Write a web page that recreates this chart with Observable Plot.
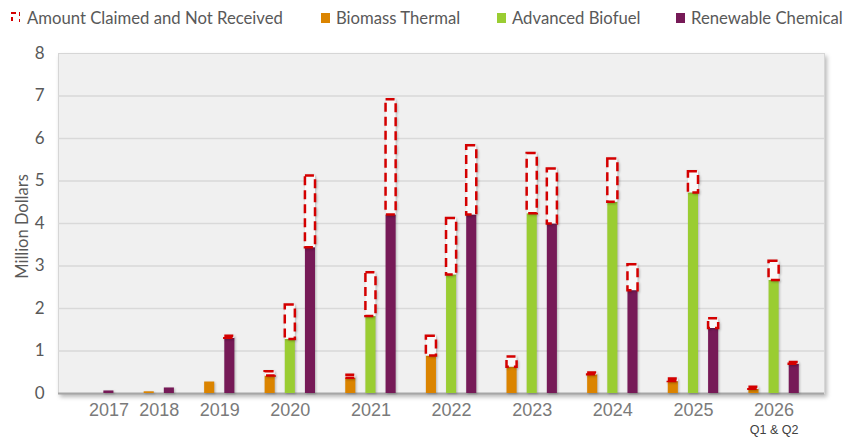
<!DOCTYPE html>
<html><head><meta charset="utf-8">
<script src="https://cdn.jsdelivr.net/npm/d3@7"></script>
<script src="https://cdn.jsdelivr.net/npm/@observablehq/plot@0.6"></script>
<style>
body{margin:0;background:#fff;font-family:Lato,"Open Sans",sans-serif;}
#legend{height:34px;position:relative;font-size:16.7px;color:#595959;width:843px;overflow:hidden}
.item{position:absolute;top:8px;height:20px;line-height:20px;white-space:nowrap}
.sw{position:absolute;top:5px;width:9px;height:10px}
#chart svg{display:block}
</style></head><body>
<div id="legend"></div>
<div id="chart"></div>
<script>
const years = ["2017","2018","2019","2020","2021","2022","2023","2024","2025","2026"];
const yearNotes = ["","","","","","","","","","Q1 & Q2"];
const seriesNames = ["Biomass Thermal","Advanced Biofuel","Renewable Chemical"];
const claimedName = "Amount Claimed and Not Received";
const seriesColors = ["#DB8400","#9ACD32","#761A57"];
const claimedColor = "#D40000";
// received amounts (million $); null = no bar slot for that year
const biomassReceived  = [0, 0.04, 0.27, 0.41, 0.36, 0.88, 0.62, 0.44, 0.28, 0.10];
const biomassClaimed   = [0, 0,    0,    0.10, 0.07, 0.47, 0.24, 0.04, 0.06, 0.05];
const biofuelReceived  = [0, null, null, 1.27, 1.81, 2.79, 4.23, 4.50, 4.72, 2.66];
const biofuelClaimed   = [0, null, null, 0.81, 1.03, 1.33, 1.42, 1.02, 0.50, 0.45];
const chemicalReceived = [0.06, 0.13, 1.30, 3.43, 4.20, 4.20, 3.99, 2.42, 1.53, 0.69];
const chemicalClaimed  = [0,    0,    0.05, 1.69, 2.71, 1.63, 1.29, 0.61, 0.23, 0.04];
const yTicks = [0,1,2,3,4,5,6,7,8];

const received = [biomassReceived, biofuelReceived, chemicalReceived];
const claimed = [biomassClaimed, biofuelClaimed, chemicalClaimed];

// build category slots (one per bar, plus a gap after each year)
const rows = [];
const labels = [];
let slot = 0;
years.forEach((yr, i) => {
  const present = [];
  seriesNames.forEach((s, k) => {
    if (received[k][i] != null) {
      rows.push({slot, year: yr, series: s, received: received[k][i], claimed: claimed[k][i]});
      if (received[k][i] > 0) present.push(slot);
      slot++;
    }
  });
  labels.push({pos: d3.mean(present), year: yr, note: yearNotes[i]});
  slot++;
});
const nSlots = slot;

// legend
const legend = document.getElementById("legend");
const legendItems = [
  {name: claimedName, left: 11, claimed: true},
  {name: seriesNames[0], left: 321, color: seriesColors[0]},
  {name: seriesNames[1], left: 497, color: seriesColors[1]},
  {name: seriesNames[2], left: 676, color: seriesColors[2]}
];
legendItems.forEach(it => {
  const d = document.createElement("div");
  d.className = "item";
  d.style.left = it.left + "px";
  if (it.claimed) {
    d.innerHTML = `<svg class="sw" style="left:0;top:4px" width="10" height="12"><rect x="1" y="1" width="8" height="10" fill="#fff" stroke="${claimedColor}" stroke-width="2" stroke-dasharray="4,3"/></svg><span style="position:absolute;left:16px">${it.name}</span>`;
  } else {
    d.innerHTML = `<span class="sw" style="left:0;background:${it.color}"></span><span style="position:absolute;left:15px">${it.name}</span>`;
  }
  legend.appendChild(d);
});

const half = 0.25;
const chart = Plot.plot({
  width: 843,
  height: 409,
  marginTop: 19,
  marginBottom: 50,
  marginLeft: 58,
  marginRight: 19,
  style: {fontFamily: "Lato, sans-serif", fontSize: "16px", color: "#595959", background: "transparent"},
  x: {domain: [-0.5, nSlots - 0.5], axis: null},
  y: {domain: [0, 8], axis: null},
  color: {domain: seriesNames, range: seriesColors},
  marks: [
    Plot.frame({fill: "#F0F0F0", stroke: "#D6D6D6", strokeWidth: 1}),
    Plot.gridY(yTicks.filter(v => v > 0 && v < 8), {stroke: "#D9D9D9", strokeOpacity: 1, strokeWidth: 1.5}),
    Plot.ruleY([0], {stroke: "#A6A6A6", strokeWidth: 2}),
    Plot.rectY(rows.filter(d => d.received > 0), {
      x1: d => d.slot - half, x2: d => d.slot + half, y1: 0, y2: "received", fill: "series"
    }),
    Plot.rectY(rows.filter(d => d.claimed > 0), {
      x1: d => d.slot - half, x2: d => d.slot + half,
      y1: "received", y2: d => d.received + d.claimed,
      fill: "#F9F9F9", stroke: claimedColor, strokeWidth: 2.5, strokeDasharray: "9,5"
    }),
    Plot.axisY(yTicks, {tickSize: 0, tickPadding: 14, fontSize: 17, fill: "#595959", label: null}),
    Plot.text(["Million Dollars"], {frameAnchor: "left", textAnchor: "middle", rotate: -90, dx: -36, dy: 3, fontSize: 16.5, fill: "#595959"}),
    Plot.text(labels, {x: "pos", text: "year", frameAnchor: "bottom", dy: 22, fontSize: 18, fontFamily: "Liberation Sans, Arial, sans-serif", fill: "#7A7A7A"}),
    Plot.text(labels.filter(d => d.note), {x: "pos", text: "note", frameAnchor: "bottom", dy: 40, fontSize: 12.5, fontFamily: "Liberation Sans, Arial, sans-serif", fill: "#404040"})
  ]
});
document.getElementById("chart").appendChild(chart);
const svg = d3.select(chart);
svg.select('[aria-label="frame"]').style("filter", "drop-shadow(2px 3px 2px rgba(0,0,0,0.28))");
svg.selectAll('g[aria-label="rect"]').style("filter", "drop-shadow(1px 1px 1px rgba(0,0,0,0.25))");
</script>
</body></html>
